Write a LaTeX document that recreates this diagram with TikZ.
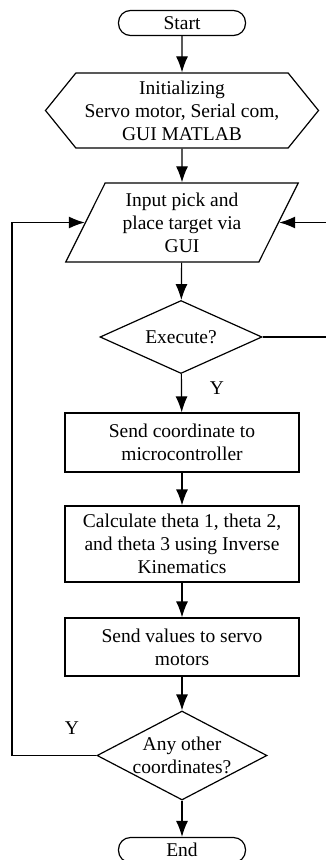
\documentclass[tikz,border=0pt]{standalone}
\usepackage{fontspec}
\setmainfont{Liberation Serif}
\usetikzlibrary{shapes.geometric,shapes.symbols,arrows.meta}
\tikzset{%
	flow terminal/.style={
		rectangle,
		draw=black,
		rounded corners=12pt,
		minimum width=127pt,
		minimum height=25pt,
		inner sep=0pt
	},
	flow prep/.style={
		signal,
		signal to=east and west,
		signal pointer angle=102,
		draw=black,
		minimum width=273pt,
		minimum height=75pt,
		inner sep=0pt,
		align=center
	},
	flow io/.style={
		trapezium,
		trapezium left angle=63,
		trapezium right angle=117,
		trapezium stretches=true,
		draw=black,
		minimum width=233pt,
		minimum height=79pt,
		inner sep=0pt,
		align=center
	},
	flow decision/.style={
		diamond,
		draw=black,
		inner sep=-7pt,
		align=center
	},
	flow process/.style={
		rectangle,
		draw=black,
		minimum width=234pt,
		inner sep=0pt,
		align=center
	},
	flow arrow/.style={
		-{Latex[length=16pt,width=12pt]}
	},
}

\begin{document}
\begin{tikzpicture}[x=1pt,y=-1pt,line width=1.2pt,font=\fontsize{19.5}{23}\selectfont]
		\clip (0,0) rectangle (326,860);
		% Nodes
		\node [flow terminal] (start) at (182,23) {Start};
		\node [flow prep] (init) at (182,110.5) {Initializing\\Servo motor, Serial com,\\GUI MATLAB};
		\node [flow io] (input) at (182,222.5) {Input pick and\\place target via\\GUI};
		\node [flow decision, aspect=2.2, minimum width=162pt, minimum height=73pt] (exec) at (181,337) {Execute?};
		\node [flow process, minimum height=59pt] (send) at (182,442.5) {Send coordinate to\\microcontroller};
		\node [flow process, minimum height=76pt] (calc) at (182,544) {Calculate theta 1, theta 2,\\and theta 3 using Inverse\\Kinematics};
		\node [flow process, minimum height=58pt] (values) at (182,647) {Send values to servo\\motors};
		\node [flow decision, aspect=1.9, minimum width=170pt, minimum height=89pt] (other) at (182,755.5) {Any other\\coordinates?};
		\node [flow terminal] (end) at (182,850) {End};
		
		% Labels
		\node (yexec) at (217,388) {Y};
		\node (yother) at (72,728) {Y};
		
		% Loop corners
		\coordinate (rloop) at (345,337);
		\coordinate (lloop) at (12,755.5);
		
		% Edges
		\draw [flow arrow] (start) -- (init);
		\draw [flow arrow] (init) -- (input);
		\draw [flow arrow] (input) -- (exec);
		\draw [flow arrow] (exec) -- (send);
		\draw [flow arrow] (send) -- (calc);
		\draw [flow arrow] (calc) -- (values);
		\draw [flow arrow] (values) -- (other);
		\draw [flow arrow] (other) -- (end);
		\draw [flow arrow] (exec.east) -- (rloop) |- (input.right side);
		\draw [flow arrow] (other.west) -- (lloop) |- (input.left side);
\end{tikzpicture}
\end{document}
